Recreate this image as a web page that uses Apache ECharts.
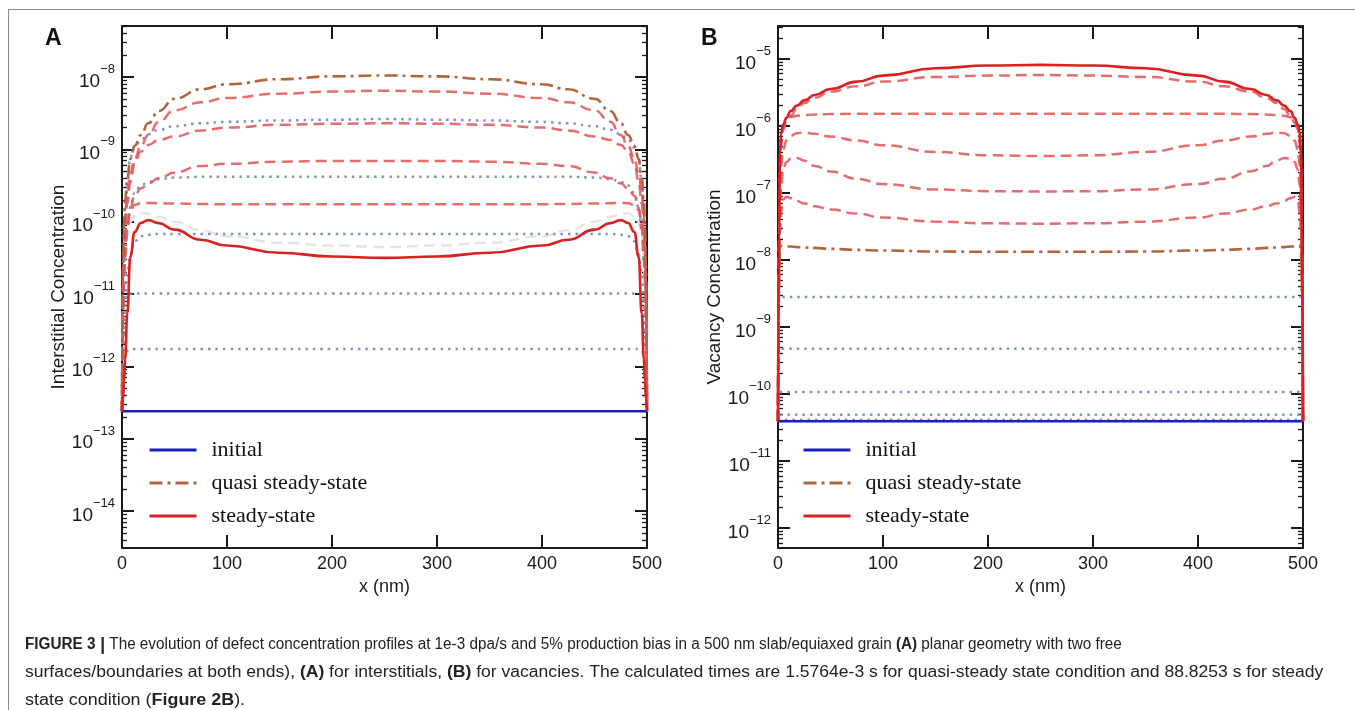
<!DOCTYPE html>
<html>
<head>
<meta charset="utf-8">
<script src="https://cdn.jsdelivr.net/npm/echarts@6/dist/echarts.min.js"></script>
<style>
html,body{margin:0;padding:0;background:#fff;}
#chart{width:1355px;height:710px;}
</style>
</head>
<body>
<div id="chart"></div>
<script>
// ---------- x positions (nm) ----------
const X_NM = [0,1,2,3,5,8,12,18,25,35,50,75,100,150,200,250,300,350,400,425,450,465,475,482,488,492,495,497,498,499,500];
const X_ENDS = [0, 500];
const X_FLAT = [0, 1, 499, 500];
const X_TICKS = [0, 100, 200, 300, 400, 500];

// ---------- Panel A: interstitial concentration ----------
const A_initial = [2.4e-13, 2.4e-13];
const A_quasi = [2.4e-13,2.51e-11,1e-10,2.0e-10,3.98e-10,7.41e-10,1.12e-9,1.58e-9,2.29e-9,3.39e-9,5.01e-9,6.76e-9,7.94e-9,9.33e-9,1.02e-8,1.05e-8,1.02e-8,9.33e-9,7.94e-9,6.76e-9,5.01e-9,3.39e-9,2.29e-9,1.58e-9,1.12e-9,7.41e-10,3.98e-10,2.0e-10,1e-10,2.51e-11,2.4e-13];
const A_steady = [2.4e-13,3.55e-13,6.31e-13,1.26e-12,5.37e-12,3.3e-11,7.2e-11,9.6e-11,1.05e-10,9.55e-11,7.76e-11,5.62e-11,4.68e-11,3.72e-11,3.31e-11,3.16e-11,3.31e-11,3.72e-11,4.68e-11,5.62e-11,7.76e-11,9.55e-11,1.05e-10,9.6e-11,7.2e-11,3.3e-11,5.37e-12,1.26e-12,6.31e-13,3.55e-13,2.4e-13];
const A_dash1 = [2.4e-13,1.58e-11,6.31e-11,1.26e-10,2.51e-10,4.68e-10,7.41e-10,1.12e-9,1.58e-9,2.4e-9,3.47e-9,4.47e-9,5.13e-9,5.89e-9,6.31e-9,6.46e-9,6.31e-9,5.89e-9,5.13e-9,4.47e-9,3.47e-9,2.4e-9,1.58e-9,1.12e-9,7.41e-10,4.68e-10,2.51e-10,1.26e-10,6.31e-11,1.58e-11,2.4e-13];
const A_dash2 = [2.4e-13,1e-11,3.98e-11,7.94e-11,1.78e-10,3.55e-10,6.31e-10,9.33e-10,1.15e-9,1.35e-9,1.51e-9,1.82e-9,2.0e-9,2.19e-9,2.26e-9,2.29e-9,2.26e-9,2.19e-9,2.0e-9,1.82e-9,1.51e-9,1.35e-9,1.15e-9,9.33e-10,6.31e-10,3.55e-10,1.78e-10,7.94e-11,3.98e-11,1e-11,2.4e-13];
const A_dash3 = [2.4e-13,5.01e-12,1.58e-11,3.16e-11,7.94e-11,1.58e-10,2.29e-10,2.88e-10,3.39e-10,3.98e-10,4.79e-10,5.89e-10,6.31e-10,6.76e-10,6.92e-10,6.92e-10,6.92e-10,6.76e-10,6.31e-10,5.89e-10,4.79e-10,3.98e-10,3.39e-10,2.88e-10,2.29e-10,1.58e-10,7.94e-11,3.16e-11,1.58e-11,5.01e-12,2.4e-13];
const A_dash4 = [2.4e-13,6.31e-12,2.51e-11,5.01e-11,1e-10,1.45e-10,1.70e-10,1.80e-10,1.82e-10,1.80e-10,1.78e-10,1.76e-10,1.74e-10,1.74e-10,1.74e-10,1.74e-10,1.74e-10,1.74e-10,1.74e-10,1.76e-10,1.78e-10,1.80e-10,1.82e-10,1.80e-10,1.70e-10,1.45e-10,1e-10,5.01e-11,2.51e-11,6.31e-12,2.4e-13];
const A_gray = [2.4e-13,5.01e-12,1.58e-11,3.16e-11,6.31e-11,1e-10,1.2e-10,1.32e-10,1.29e-10,1.17e-10,1e-10,7.59e-11,6.31e-11,5.13e-11,4.68e-11,4.47e-11,4.68e-11,5.13e-11,6.31e-11,7.59e-11,1e-10,1.17e-10,1.29e-10,1.32e-10,1.2e-10,1e-10,6.31e-11,3.16e-11,1.58e-11,5.01e-12,2.4e-13];
const A_dot1 = [2.4e-13,1.26e-11,5.01e-11,1e-10,3.16e-10,7.94e-10,1.05e-9,1.35e-9,1.62e-9,1.86e-9,2.09e-9,2.29e-9,2.4e-9,2.51e-9,2.57e-9,2.63e-9,2.57e-9,2.51e-9,2.4e-9,2.29e-9,2.09e-9,1.86e-9,1.62e-9,1.35e-9,1.05e-9,7.94e-10,3.16e-10,1e-10,5.01e-11,1.26e-11,2.4e-13];
const A_dot2 = [2.4e-13,5.01e-12,1.58e-11,3.16e-11,7.94e-11,1.58e-10,2.51e-10,3.16e-10,3.55e-10,3.89e-10,4.07e-10,4.17e-10,4.17e-10,4.17e-10,4.17e-10,4.17e-10,4.17e-10,4.17e-10,4.17e-10,4.17e-10,4.07e-10,3.89e-10,3.55e-10,3.16e-10,2.51e-10,1.58e-10,7.94e-11,3.16e-11,1.58e-11,5.01e-12,2.4e-13];
const A_dot3 = [2.4e-13,1.58e-12,5.01e-12,1e-11,2.0e-11,3.55e-11,5.37e-11,6.31e-11,6.61e-11,6.76e-11,6.76e-11,6.76e-11,6.76e-11,6.76e-11,6.76e-11,6.76e-11,6.76e-11,6.76e-11,6.76e-11,6.76e-11,6.76e-11,6.76e-11,6.61e-11,6.31e-11,5.37e-11,3.55e-11,2.0e-11,1e-11,5.01e-12,1.58e-12,2.4e-13];
const A_dot4 = [2.4e-13,1.58e-12,5.01e-12,7.94e-12,1e-11,1.02e-11,1.02e-11,1.02e-11,1.02e-11,1.02e-11,1.02e-11,1.02e-11,1.02e-11,1.02e-11,1.02e-11,1.02e-11,1.02e-11,1.02e-11,1.02e-11,1.02e-11,1.02e-11,1.02e-11,1.02e-11,1.02e-11,1.02e-11,1.02e-11,1e-11,7.94e-12,5.01e-12,1.58e-12,2.4e-13];
const A_dot5 = [2.4e-13,6.31e-13,1.12e-12,1.41e-12,1.66e-12,1.74e-12,1.74e-12,1.74e-12,1.74e-12,1.74e-12,1.74e-12,1.74e-12,1.74e-12,1.74e-12,1.74e-12,1.74e-12,1.74e-12,1.74e-12,1.74e-12,1.74e-12,1.74e-12,1.74e-12,1.74e-12,1.74e-12,1.74e-12,1.74e-12,1.66e-12,1.41e-12,1.12e-12,6.31e-13,2.4e-13];

// ---------- Panel B: vacancy concentration ----------
const B_initial = [3.9e-11, 3.9e-11];
const B_quasi = [3.9e-11,5.01e-9,1.41e-8,1.62e-8,1.62e-8,1.58e-8,1.58e-8,1.55e-8,1.53e-8,1.51e-8,1.46e-8,1.41e-8,1.38e-8,1.33e-8,1.32e-8,1.32e-8,1.32e-8,1.33e-8,1.38e-8,1.41e-8,1.46e-8,1.51e-8,1.53e-8,1.55e-8,1.58e-8,1.58e-8,1.62e-8,1.62e-8,1.41e-8,5.01e-9,3.9e-11];
const B_steady = [3.9e-11,3.16e-8,3.98e-7,7.94e-7,1.05e-6,1.32e-6,1.66e-6,2.0e-6,2.4e-6,2.88e-6,3.55e-6,4.57e-6,5.62e-6,7.24e-6,7.94e-6,8.13e-6,7.94e-6,7.24e-6,5.62e-6,4.57e-6,3.55e-6,2.88e-6,2.4e-6,2.0e-6,1.66e-6,1.32e-6,1.05e-6,7.94e-7,3.98e-7,3.16e-8,3.9e-11];
const B_dash1 = [3.9e-11,2.51e-8,3.16e-7,6.31e-7,8.91e-7,1.12e-6,1.41e-6,1.78e-6,2.19e-6,2.63e-6,3.24e-6,3.89e-6,4.57e-6,5.37e-6,5.62e-6,5.75e-6,5.62e-6,5.37e-6,4.57e-6,3.89e-6,3.24e-6,2.63e-6,2.19e-6,1.78e-6,1.41e-6,1.12e-6,8.91e-7,6.31e-7,3.16e-7,2.51e-8,3.9e-11];
const B_dash2 = [3.9e-11,1.58e-8,2.0e-7,5.01e-7,9.55e-7,1.20e-6,1.35e-6,1.41e-6,1.45e-6,1.48e-6,1.50e-6,1.51e-6,1.51e-6,1.51e-6,1.51e-6,1.51e-6,1.51e-6,1.51e-6,1.51e-6,1.51e-6,1.50e-6,1.48e-6,1.45e-6,1.41e-6,1.35e-6,1.20e-6,9.55e-7,5.01e-7,2.0e-7,1.58e-8,3.9e-11];
const B_dash3 = [3.9e-11,1e-8,1e-7,2.51e-7,4.47e-7,6.03e-7,7.08e-7,7.76e-7,7.94e-7,7.59e-7,6.92e-7,6.03e-7,5.13e-7,4.07e-7,3.63e-7,3.55e-7,3.63e-7,4.07e-7,5.13e-7,6.03e-7,6.92e-7,7.59e-7,7.94e-7,7.76e-7,7.08e-7,6.03e-7,4.47e-7,2.51e-7,1e-7,1e-8,3.9e-11];
const B_dash4 = [3.9e-11,6.31e-9,5.01e-8,1.26e-7,2.24e-7,2.88e-7,3.24e-7,3.31e-7,3.02e-7,2.51e-7,2.09e-7,1.62e-7,1.35e-7,1.12e-7,1.06e-7,1.05e-7,1.06e-7,1.12e-7,1.35e-7,1.62e-7,2.09e-7,2.51e-7,3.02e-7,3.31e-7,3.24e-7,2.88e-7,2.24e-7,1.26e-7,5.01e-8,6.31e-9,3.9e-11];
const B_dash5 = [3.9e-11,3.16e-9,2.51e-8,5.01e-8,7.94e-8,8.71e-8,8.32e-8,7.59e-8,6.92e-8,6.31e-8,5.62e-8,4.90e-8,4.27e-8,3.72e-8,3.51e-8,3.47e-8,3.51e-8,3.72e-8,4.27e-8,4.90e-8,5.62e-8,6.31e-8,6.92e-8,7.59e-8,8.32e-8,8.71e-8,7.94e-8,5.01e-8,2.51e-8,3.16e-9,3.9e-11];
const B_dot1 = [3.9e-11, 2.8e-9, 2.8e-9, 3.9e-11];
const B_dot2 = [3.9e-11, 4.7e-10, 4.7e-10, 3.9e-11];
const B_dot3 = [3.9e-11, 1.07e-10, 1.07e-10, 3.9e-11];
const B_dot4 = [3.9e-11, 4.9e-11, 4.9e-11, 3.9e-11];
const B_dot5 = [3.9e-11, 4.1e-11, 4.1e-11, 3.9e-11];

// ---------- axis ranges (log10 of the visible extent) ----------
const A_Y_LOG_RANGE = [-14.51, -7.295];
const B_Y_LOG_RANGE = [-12.30, -4.51];
const LEGEND_NAMES = ['initial', 'quasi steady-state', 'steady-state'];

// ---------- styles ----------
const C_INIT = '#1d1dc2', C_QUASI = '#b0653b', C_STEADY = '#dc1f1f';
const C_DASH = 'rgba(226,88,92,0.88)', C_DOT = '#8092c6', C_GRAY = '#e4e4e4';
const DASH = [11, 6], DASHDOT = [13, 5, 3, 5], DOT = [2.5, 5];
const FONT = '"Liberation Sans", Arial, Helvetica, sans-serif';
const INK = '#1a1a1a';

function pairs(xs, ys) { return xs.map((x, i) => [x, ys[i]]); }

function mk(panel, name, xs, ys, color, type, width, z) {
  const ax = panel === 'A' ? 0 : 2;
  return {
    type: 'line', name: name, xAxisIndex: ax, yAxisIndex: ax,
    data: pairs(xs, ys), symbol: 'none', smooth: 0.5, smoothMonotone: 'x',
    lineStyle: { color: color, type: type, width: width, cap: 'butt' },
    itemStyle: { color: color }, z: z, silent: true, animation: false
  };
}

function logLabel(v) {
  const e = Math.log10(v);
  const r = Math.round(e);
  if (Math.abs(e - r) > 1e-6) return '';
  return '{b|10}{s|' + (r < 0 ? '\u2212' : '') + Math.abs(r) + '}';
}

function yAxes(gridIndex, range, name) {
  const base = {
    type: 'log', logBase: 10, gridIndex: gridIndex,
    min: Math.pow(10, range[0]), max: Math.pow(10, range[1]),
    axisLine: { show: true, onZero: false, lineStyle: { color: INK, width: 2 } },
    axisTick: { show: true, inside: true, length: 12, lineStyle: { color: INK, width: 2 } },
    minorTick: { show: true, splitNumber: 9, length: 5, lineStyle: { color: INK, width: 1.3 } },
    splitLine: { show: false }, minorSplitLine: { show: false }
  };
  const left = Object.assign({}, base, {
    position: 'left', name: name, nameLocation: 'middle', nameGap: 53, nameRotate: 90,
    nameTextStyle: { fontFamily: FONT, fontSize: 19, color: INK },
    axisLabel: {
      show: true, margin: 7, formatter: logLabel, showMinLabel: true, showMaxLabel: true,
      rich: {
        b: { fontFamily: FONT, fontSize: 19, color: INK, lineHeight: 28, verticalAlign: 'bottom' },
        s: { fontFamily: FONT, fontSize: 13, color: INK, lineHeight: 28, verticalAlign: 'top' }
      }
    }
  });
  const right = Object.assign({}, base, { position: 'right', axisLabel: { show: false } });
  return [left, right];
}

function xAxes(gridIndex) {
  const base = {
    type: 'value', gridIndex: gridIndex, min: X_TICKS[0], max: X_TICKS[X_TICKS.length - 1], interval: 100,
    axisLine: { show: true, onZero: false, lineStyle: { color: INK, width: 2 } },
    axisTick: { show: true, inside: true, length: 13, lineStyle: { color: INK, width: 2 } },
    splitLine: { show: false }
  };
  const bottom = Object.assign({}, base, {
    position: 'bottom', name: 'x (nm)', nameLocation: 'middle', nameGap: 30,
    nameTextStyle: { fontFamily: FONT, fontSize: 18, color: INK },
    axisLabel: { show: true, margin: 7, fontFamily: FONT, fontSize: 18, color: INK }
  });
  const top = Object.assign({}, base, { position: 'top', axisLabel: { show: false } });
  return [bottom, top];
}

function legend(left) {
  return {
    data: LEGEND_NAMES, orient: 'vertical', left: left, top: 434,
    itemWidth: 47, itemHeight: 22, itemGap: 11, selectedMode: false,
    itemStyle: { opacity: 0, color: 'transparent', borderWidth: 0 },
    lineStyle: { width: 3 },
    textStyle: { fontFamily: '"Liberation Serif", "Times New Roman", serif', fontSize: 22, color: '#111', lineHeight: 22, padding: [0, 0, 0, 10] }
  };
}

const series = [
  // Panel A
  mk('A', 'A-gray', X_NM, A_gray, C_GRAY, DASH, 2.5, 1),
  mk('A', 'A-dot1', X_NM, A_dot1, C_DOT, DOT, 2.5, 2),
  mk('A', 'A-dot2', X_NM, A_dot2, C_DOT, DOT, 2.5, 2),
  mk('A', 'A-dot3', X_NM, A_dot3, C_DOT, DOT, 2.5, 2),
  mk('A', 'A-dot4', X_NM, A_dot4, C_DOT, DOT, 2.5, 2),
  mk('A', 'A-dot5', X_NM, A_dot5, C_DOT, DOT, 2.5, 2),
  mk('A', 'A-dash1', X_NM, A_dash1, C_DASH, DASH, 2.5, 3),
  mk('A', 'A-dash2', X_NM, A_dash2, C_DASH, DASH, 2.5, 3),
  mk('A', 'A-dash3', X_NM, A_dash3, C_DASH, DASH, 2.5, 3),
  mk('A', 'A-dash4', X_NM, A_dash4, C_DASH, DASH, 2.5, 3),
  mk('A', 'quasi steady-state', X_NM, A_quasi, C_QUASI, DASHDOT, 2.6, 4),
  mk('A', 'initial', X_ENDS, A_initial, C_INIT, 'solid', 2.6, 5),
  mk('A', 'steady-state', X_NM, A_steady, C_STEADY, 'solid', 2.6, 6),
  // Panel B
  mk('B', 'B-dot1', X_FLAT, B_dot1, C_DOT, DOT, 2.5, 2),
  mk('B', 'B-dot2', X_FLAT, B_dot2, C_DOT, DOT, 2.5, 2),
  mk('B', 'B-dot3', X_FLAT, B_dot3, C_DOT, DOT, 2.5, 2),
  mk('B', 'B-dot4', X_FLAT, B_dot4, C_DOT, DOT, 2.5, 2),
  mk('B', 'B-dot5', X_FLAT, B_dot5, C_DOT, DOT, 2.5, 2),
  mk('B', 'B-dash1', X_NM, B_dash1, C_DASH, DASH, 2.5, 3),
  mk('B', 'B-dash2', X_NM, B_dash2, C_DASH, DASH, 2.5, 3),
  mk('B', 'B-dash3', X_NM, B_dash3, C_DASH, DASH, 2.5, 3),
  mk('B', 'B-dash4', X_NM, B_dash4, C_DASH, DASH, 2.5, 3),
  mk('B', 'B-dash5', X_NM, B_dash5, C_DASH, DASH, 2.5, 3),
  mk('B', 'quasi steady-state', X_NM, B_quasi, C_QUASI, DASHDOT, 2.6, 4),
  mk('B', 'initial', X_ENDS, B_initial, C_INIT, 'solid', 2.6, 5),
  mk('B', 'steady-state', X_NM, B_steady, C_STEADY, 'solid', 2.6, 6)
];

const capRich = {
  b: { fontFamily: FONT, fontSize: 16, fontWeight: 'bold', color: '#222' },
  bar: { fontFamily: FONT, fontSize: 18, fontWeight: 'bold', color: '#222' }
};
const CAPTION = [
  '{b|FIGURE 3}{bar| |} The evolution of defect concentration profiles at 1e-3 dpa/s and 5% production bias in a 500 nm slab/equiaxed grain {b|(A)} planar geometry with two free',
  'surfaces/boundaries at both ends), {b|(A)} for interstitials, {b|(B)} for vacancies. The calculated times are 1.5764e-3 s for quasi-steady state condition and 88.8253 s for steady',
  'state condition ({b|Figure 2B}).'
];
const CAPTION_Y = [645, 673, 701];
const CAPTION_SCALE = [0.955, 1.096, 1.12];

const option = {
  backgroundColor: '#fff',
  animation: false,
  grid: [
    { left: 122, top: 26, width: 525, height: 522, containLabel: false },
    { left: 778, top: 26, width: 525, height: 522, containLabel: false }
  ],
  xAxis: [].concat(xAxes(0), xAxes(1)),
  yAxis: [].concat(yAxes(0, A_Y_LOG_RANGE, 'Interstitial Concentration'), yAxes(1, B_Y_LOG_RANGE, 'Vacancy Concentration')),
  legend: [legend(143), legend(797)],
  series: series,
  graphic: [
    { type: 'rect', silent: true, shape: { x: 8.5, y: 9.5, width: 1400, height: 760 }, style: { fill: 'none', stroke: '#8a8a8a', lineWidth: 1 } },
    { type: 'text', silent: true, x: 45, y: 39, style: { text: 'A', font: 'bold 23px ' + FONT, fill: '#111', verticalAlign: 'middle' } },
    { type: 'text', silent: true, x: 701, y: 39, style: { text: 'B', font: 'bold 23px ' + FONT, fill: '#111', verticalAlign: 'middle' } }
  ].concat(CAPTION.map((t, i) => ({
    type: 'text', silent: true, x: 25, y: CAPTION_Y[i], scaleX: CAPTION_SCALE[i],
    style: { text: t, rich: capRich, font: '16px ' + FONT, fontFamily: FONT, fontSize: 16, fill: '#222', verticalAlign: 'middle' }
  })))
};

const chart = echarts.init(document.getElementById('chart'), null, { renderer: 'canvas' });
chart.setOption(option);
</script>
</body>
</html>
